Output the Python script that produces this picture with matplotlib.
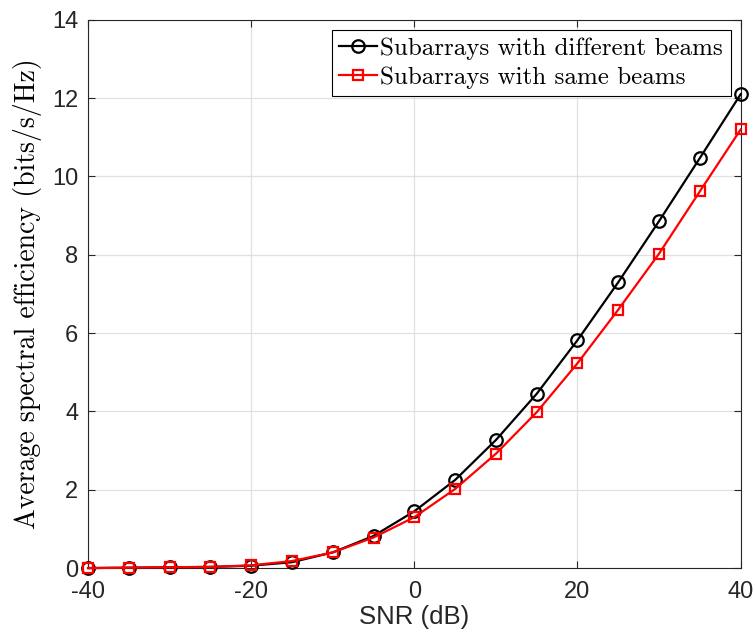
import numpy as np
import matplotlib
matplotlib.use("Agg")
import matplotlib.pyplot as plt

# Data
snr = [-40, -35, -30, -25, -20, -15, -10, -5, 0, 5, 10, 15, 20, 25, 30, 35, 40]
diff_beams = [0.0, 0.01, 0.02, 0.03, 0.06, 0.15, 0.40, 0.82, 1.45, 2.25, 3.27,
              4.45, 5.82, 7.30, 8.86, 10.47, 12.10]
same_beams = [0.0, 0.01, 0.02, 0.03, 0.07, 0.18, 0.40, 0.78, 1.30, 2.02, 2.92,
              3.98, 5.23, 6.60, 8.03, 9.62, 11.20]
xticks = [-40, -20, 0, 20, 40]
yticks = [0, 2, 4, 6, 8, 10, 12, 14]

plt.rcParams['font.family'] = ['Liberation Sans', 'DejaVu Sans']
plt.rcParams['axes.unicode_minus'] = False

fig = plt.figure(figsize=(7.55, 6.39), dpi=100)
ax = fig.add_axes([0.1166, 0.111, 0.8644, 0.858])

ax.plot(snr, diff_beams, '-o', color='black', lw=1.6, ms=9, mfc='none',
        mew=1.6, label='Subarrays with different beams', clip_on=False, zorder=3)
ax.plot(snr, same_beams, '-s', color='red', lw=1.6, ms=7.5, mfc='none',
        mew=1.6, label='Subarrays with same beams', clip_on=False, zorder=4)

ax.set_xlim(-40, 40)
ax.set_ylim(0, 14)
ax.set_xticks(xticks)
ax.set_yticks(yticks)
ax.grid(True, color='#e0e0e0', lw=0.9)
ax.set_axisbelow(True)
ax.tick_params(direction='in', top=True, right=True, labelsize=17,
               colors='#262626', length=5, width=0.8)
ax.tick_params(axis='x', pad=9)
ax.tick_params(axis='y', pad=7)
for s in ax.spines.values():
    s.set_color('#262626')
    s.set_linewidth(0.8)

ax.set_xlabel('SNR (dB)', fontsize=18.5, color='#262626', labelpad=2)
ax.set_ylabel('Average spectral efficiency (bits/s/Hz)', fontsize=20,
              family='cmr10', labelpad=7)

leg = ax.legend(loc='upper right', prop={'family': 'cmr10', 'size': 18},
                fancybox=False, framealpha=1, edgecolor='black',
                borderpad=0.3, handlelength=1.5, handletextpad=0.15,
                labelspacing=0.25, borderaxespad=0.4)
leg.get_frame().set_linewidth(0.8)

fig.savefig('out.png', dpi=100)
